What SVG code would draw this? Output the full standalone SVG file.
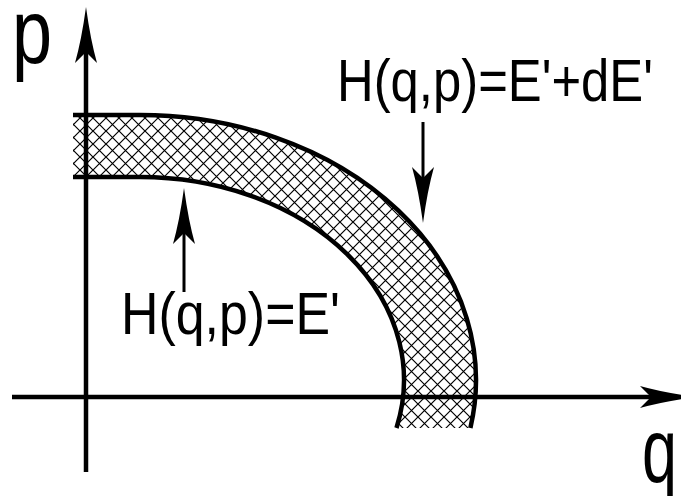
<svg xmlns="http://www.w3.org/2000/svg" width="681" height="496" viewBox="0 0 681 496">
<style>
.lbl{font-family:"Liberation Sans",Arial,sans-serif;fill:#000}
.curve{fill:none;stroke:#000;stroke-width:4.5}
.axis{fill:none;stroke:#000;stroke-width:4.5}
.ptr{fill:none;stroke:#000;stroke-width:3}
</style>
<defs>
<pattern id="hatch" x="2" y="1" width="13" height="13" patternUnits="userSpaceOnUse">
<path d="M0,0L13,13M13,0L0,13" stroke="#000" stroke-width="1.2"/>
</pattern>
<marker id="ah" markerUnits="userSpaceOnUse" viewBox="-12 -12 60 24" refX="0" refY="0" markerWidth="60" markerHeight="24" orient="auto" overflow="visible">
<path d="M45,0 Q12,4.5 -11,11 L0,0 L-11,-11 Q12,-4.5 45,0Z" fill="#000"/>
</marker>
</defs>
<rect width="681" height="496" fill="#fff"/>
<g id="band">
<path d="M73,115 H140 A336,265 0 0 1 470.4,428 L396.5,428 A264,203 0 0 0 140,177 H73 Z" fill="url(#hatch)"/>
<path class="curve" d="M73,115 H140 A336,265 0 0 1 470.4,428"/>
<path class="curve" d="M73,177 H140 A264,203 0 0 1 396.5,428"/>
</g>
<g id="connectors">
<line class="axis" x1="86" y1="472" x2="86" y2="52" marker-end="url(#ah)"/>
<line class="axis" x1="12" y1="397" x2="651" y2="397" marker-end="url(#ah)"/>
<line class="ptr" x1="423" y1="122" x2="423" y2="178" marker-end="url(#ah)"/>
<line class="ptr" x1="184" y1="292" x2="184" y2="233" marker-end="url(#ah)"/>
</g>
<g id="label-p"><text class="lbl" transform="translate(12,63) scale(0.8,1)" font-size="90">p</text></g>
<g id="label-q"><text class="lbl" transform="translate(642,482) scale(0.7,1)" font-size="90">q</text></g>
<g id="label-outer"><text class="lbl" transform="translate(337,101) scale(0.847,1)" font-size="60">H(q,p)=E'+dE'</text></g>
<g id="label-inner"><text class="lbl" transform="translate(121,334) scale(0.865,1)" font-size="60">H(q,p)=E'</text></g>
</svg>
